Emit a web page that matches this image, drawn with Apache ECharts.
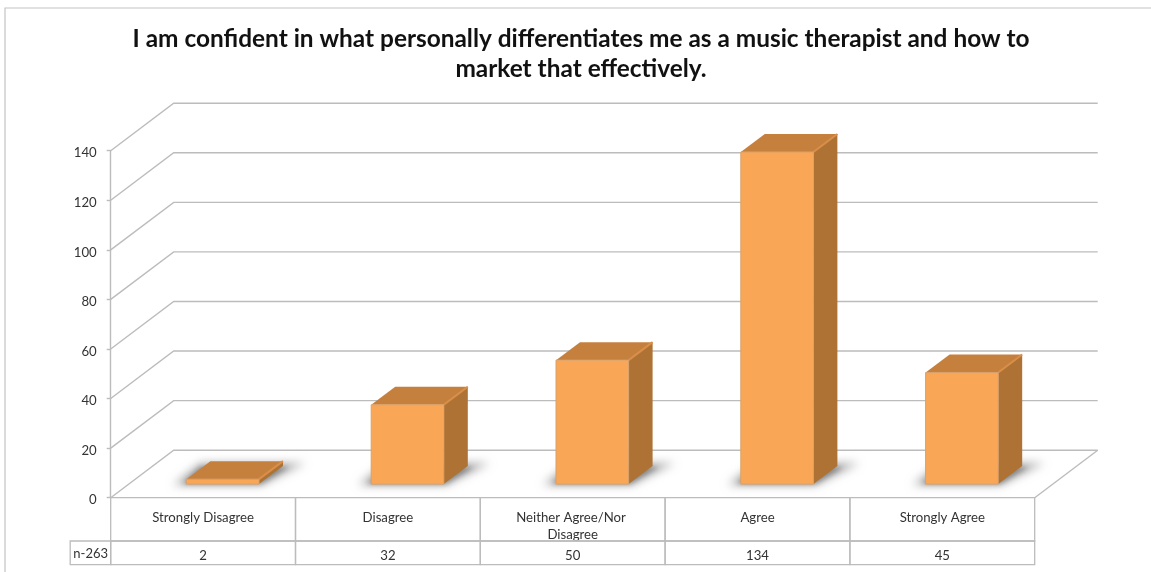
<!DOCTYPE html>
<html><head><meta charset="utf-8">
<style>html,body{margin:0;padding:0;background:#fff}#c{width:1151px;height:572px}</style>
<script src="https://cdn.jsdelivr.net/npm/echarts@6/dist/echarts.min.js"></script>
</head><body><div id="c"></div>
<script>
const chartTitle = 'I am confident in what personally differentiates me as a music therapist and how to\nmarket that effectively.';
const categories = ['Strongly Disagree', 'Disagree', 'Neither Agree/Nor Disagree', 'Agree', 'Strongly Agree'];
const counts = [2, 32, 50, 134, 45];
const yTicks = [0, 20, 40, 60, 80, 100, 120, 140];
const rowHeader = 'n-263';

const FONT = 'Lato';
const LINE = '#bcbcbc';
const WALL_DX = 63, WALL_DY = -47.5;
const DEPTH_DX = 24, DEPTH_DY = -18;
const FLOOR_DX = 19.6, FLOOR_DY = -13.6;
const HALF = 36.3;
const ROW1 = 43.3, ROW2 = 67;

function renderWalls(params, api) {
  const v = api.value(0);
  const p = api.coord([0, v]);
  const band = api.size([1, 0])[0];
  const x0 = p[0] - band / 2, y = p[1];
  const x1 = x0 + band * categories.length;
  const children = [{
    type: 'polyline',
    shape: { points: [[x0, y], [x0 + WALL_DX, y + WALL_DY], [x1 + WALL_DX, y + WALL_DY]] },
    style: { fill: null, stroke: LINE, lineWidth: 1.4 }
  }];
  if (v === 0) children.push({
    type: 'line',
    shape: { x1: x1, y1: y, x2: x1 + WALL_DX, y2: y + WALL_DY },
    style: { stroke: LINE, lineWidth: 1.4 }
  });
  return { type: 'group', children };
}

function renderTable(params, api) {
  const i = api.value(0);
  const p = api.coord([i, 0]);
  const band = api.size([1, 0])[0];
  const x = p[0] - band / 2, y = p[1];
  const st = { fill: null, stroke: LINE, lineWidth: 1.3 };
  const children = [
    { type: 'rect', shape: { x, y, width: band, height: ROW1 }, style: st },
    { type: 'rect', shape: { x, y: y + ROW1, width: band, height: ROW2 - ROW1 }, style: st }
  ];
  if (i === 0) {
    children.push({ type: 'rect', shape: { x: x - 40.5, y: y + ROW1, width: 40.5, height: ROW2 - ROW1 }, style: st });
    children.push({ type: 'text', style: { x: x - 20, y: y + ROW1 + 12.5, text: rowHeader, align: 'center', verticalAlign: 'middle', font: '13px ' + FONT, fill: '#333' } });
  }
  return { type: 'group', children };
}

function renderShadow(params, api) {
  const i = api.value(0);
  const p = api.coord([i, 0]);
  const cx = p[0] + FLOOR_DX, by = p[1] + FLOOR_DY;
  const xl = cx - HALF, xr = cx + HALF;
  const off = 3000;
  return {
    type: 'group',
    children: [
      { type: 'polygon',
        shape: { points: [[xl - 13 - off, by + 1], [xr + 2 - off, by + 1], [xr + 46 - off, by - 21], [xl + 14 - off, by - 21]] },
        style: { fill: '#666', shadowBlur: 10, shadowColor: 'rgba(150,150,150,0.75)', shadowOffsetX: off } },
      { type: 'polygon',
        shape: { points: [[xl - 4 - off, by], [xr + 2 - off, by], [xr + 30 - off, by - 17], [xl + 14 - off, by - 17]] },
        style: { fill: '#666', shadowBlur: 5, shadowColor: 'rgba(95,95,95,0.55)', shadowOffsetX: off } }
    ]
  };
}

function renderBar(params, api) {
  const i = api.value(0), v = api.value(1);
  const base = api.coord([i, 0]), top = api.coord([i, v]);
  const cx = base[0] + FLOOR_DX;
  const by = base[1] + FLOOR_DY, ty = top[1] + FLOOR_DY;
  const xl = cx - HALF, xr = cx + HALF;
  return {
    type: 'group',
    children: [
      { type: 'polygon', shape: { points: [[xr, by], [xr + DEPTH_DX, by + DEPTH_DY], [xr + DEPTH_DX, ty + DEPTH_DY], [xr, ty]] },
        style: { fill: '#ae7334' } },
      { type: 'polygon', shape: { points: [[xl, ty], [xr, ty], [xr + DEPTH_DX, ty + DEPTH_DY], [xl + DEPTH_DX, ty + DEPTH_DY]] },
        style: { fill: '#c6803e' } },
      { type: 'line', shape: { x1: xr, y1: ty, x2: xr + DEPTH_DX, y2: ty + DEPTH_DY },
        style: { stroke: '#d98f49', lineWidth: 2 } },
      { type: 'rect', shape: { x: xl, y: ty, width: xr - xl, height: by - ty },
        style: { fill: '#f9a756', stroke: '#d9a06a', lineWidth: 1 } }
    ]
  };
}

const rows = categories.map((c, i) => [i, counts[i]]);
const tickRows = yTicks.map(t => [t]);
const catIdx = categories.map((c, i) => [i]);

const chart = echarts.init(document.getElementById('c'), null, { renderer: 'canvas' });
chart.setOption({
  animation: false,
  backgroundColor: '#fff',
  title: {
    text: chartTitle, left: 576, top: 19, textAlign: 'center',
    textStyle: { fontFamily: FONT, fontWeight: 'bold', fontSize: 24.4, lineHeight: 30, color: '#111' }
  },
  graphic: [{
    type: 'polyline', silent: true,
    shape: { points: [[5, 572], [5, 8], [1151, 8]] },
    style: { fill: null, stroke: '#c4c4c4', lineWidth: 1.2 }
  }],
  grid: { left: 110.7, top: 150.7, width: 924, height: 347, containLabel: false },
  xAxis: [
    { type: 'category', data: categories, position: 'bottom',
      axisLine: { show: false }, axisTick: { show: false },
      axisLabel: { interval: 0, margin: 11, width: 128, overflow: 'break', lineHeight: 17.5, verticalAlign: 'top',
        fontFamily: FONT, fontSize: 13.2, color: '#333' } },
    { type: 'category', data: counts.map(String), position: 'bottom',
      axisLine: { show: false }, axisTick: { show: false },
      axisLabel: { interval: 0, margin: 49, lineHeight: 18, verticalAlign: 'top',
        fontFamily: FONT, fontSize: 13.2, color: '#333' } }
  ],
  yAxis: {
    type: 'value', min: 0, max: 140, interval: 20,
    splitLine: { show: false },
    axisLine: { show: true, lineStyle: { color: LINE, width: 1.4 } },
    axisTick: { show: true, length: 4, lineStyle: { color: LINE, width: 1.4 } },
    axisLabel: { margin: 14, formatter: '{t|{value}}', color: '#333',
      rich: { t: { padding: [5, 0, 0, 0], fontFamily: FONT, fontSize: 13.2, color: '#333' } } }
  },
  series: [
    { type: 'custom', name: 'walls', data: tickRows, renderItem: renderWalls, encode: { y: 0 }, clip: false, z: 1, silent: true },
    { type: 'custom', name: 'table', data: catIdx, renderItem: renderTable, encode: { x: 0 }, clip: false, z: 2, silent: true },
    { type: 'custom', name: 'shadow', data: catIdx, renderItem: renderShadow, encode: { x: 0 }, clip: false, z: 3, silent: true },
    { type: 'custom', name: 'bars', data: rows, renderItem: renderBar, encode: { x: 0, y: 1 }, clip: false, z: 4 }
  ]
});
</script></body></html>
